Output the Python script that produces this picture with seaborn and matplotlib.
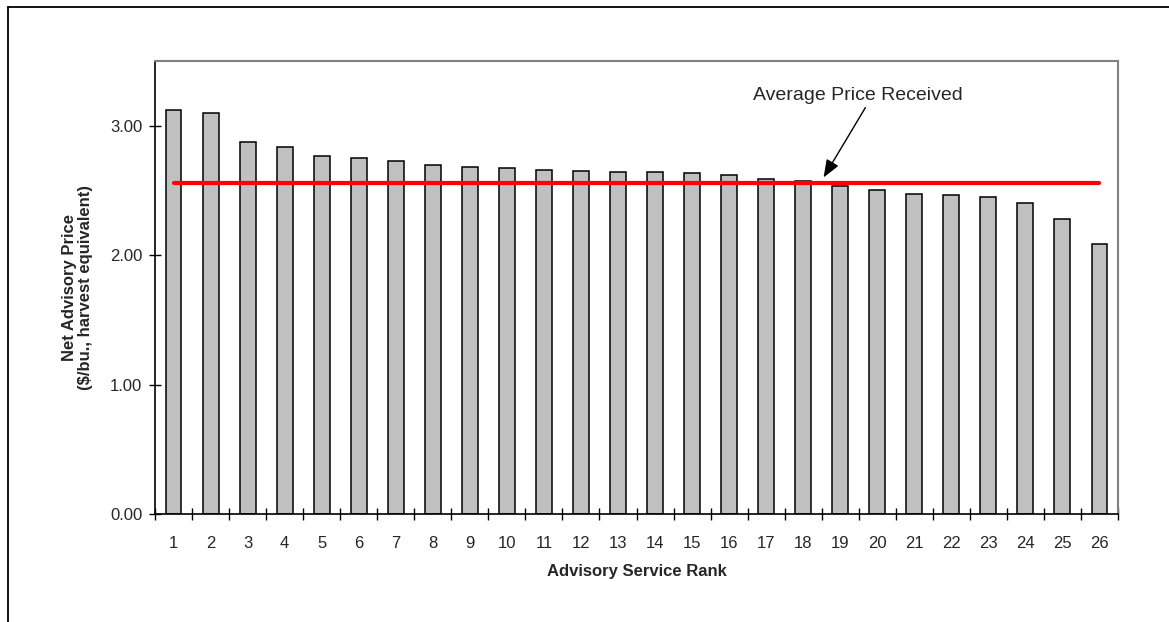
import matplotlib
matplotlib.use("Agg")
import matplotlib.pyplot as plt
from matplotlib.lines import Line2D
from matplotlib.ticker import FixedLocator, FormatStrFormatter
import seaborn as sns
import pandas as pd
import numpy as np

# Advisory service ranking: net advisory price per service
ranks = [str(i) for i in range(1, 27)]
net_prices = [3.12, 3.10, 2.877, 2.838, 2.769, 2.75, 2.73, 2.70, 2.68, 2.674,
              2.655, 2.65, 2.645, 2.64, 2.632, 2.62, 2.585, 2.575, 2.534, 2.50,
              2.473, 2.462, 2.447, 2.40, 2.28, 2.083]
avg_price_received = 2.555
y_ticks = [0.0, 1.0, 2.0, 3.0]

sns.set_theme(style="white")
plt.rcParams["font.family"] = ["Liberation Sans", "DejaVu Sans"]

df = pd.DataFrame({"rank": ranks, "price": net_prices})
avg_df = pd.DataFrame({"pos": np.arange(len(ranks)),
                       "avg": [avg_price_received] * len(ranks)})

fig = plt.figure(figsize=(11.69, 6.22), dpi=100)
ax = fig.add_axes([155 / 1169, 1 - 514 / 622, (1118 - 155) / 1169, (514 - 61) / 622])

sns.barplot(data=df, x="rank", y="price", color="#C0C0C0", saturation=1,
            width=0.43, edgecolor="black", linewidth=1.1, ax=ax)
sns.lineplot(data=avg_df, x="pos", y="avg", color="#FF0000", linewidth=3, ax=ax)

ax.set_xlim(-0.5, len(ranks) - 0.5)
ax.set_ylim(0, 3.5)

# y axis
ax.yaxis.set_major_locator(FixedLocator(y_ticks))
ax.yaxis.set_major_formatter(FormatStrFormatter("%.2f"))
ax.tick_params(axis="y", which="major", direction="inout", length=8, width=1,
               color="black", labelsize=12, pad=5, left=True)

# x axis: labels at bar centres, tick marks at category boundaries
ax.set_xticks(np.arange(len(ranks)))
ax.set_xticklabels(ranks)
ax.set_xticks(np.arange(len(ranks) + 1) - 0.5, minor=True)
ax.tick_params(axis="x", which="major", length=0, labelsize=12, pad=16)
ax.tick_params(axis="x", which="minor", direction="inout", length=8, width=1,
               color="black", bottom=True)

ax.set_xlabel("Advisory Service Rank", fontsize=12, fontweight="bold", labelpad=9)
ax.set_ylabel("Net Advisory Price\n($/bu., harvest equivalent)", fontsize=12,
              fontweight="bold", labelpad=12, linespacing=1.12)

for side in ("left", "bottom"):
    ax.spines[side].set_color("black")
    ax.spines[side].set_linewidth(1.2)
for side in ("top", "right"):
    ax.spines[side].set_color("#808080")
    ax.spines[side].set_linewidth(1.5)

# Annotation for the average price line
ax.text(18.47, 3.235, "Average Price Received", fontsize=14, ha="center", va="center")
ax.annotate("", xy=(17.55, avg_price_received + 0.045), xytext=(18.68, 3.14),
            arrowprops=dict(arrowstyle="-|>,head_length=0.9,head_width=0.35",
                            color="black", lw=1, shrinkA=0, shrinkB=0))

# Outer frame (top and left edges)
fig.add_artist(Line2D([8 / 1169, 1.0], [1 - 7 / 622, 1 - 7 / 622],
                      color="black", linewidth=1.3, transform=fig.transFigure))
fig.add_artist(Line2D([8 / 1169, 8 / 1169], [0.0, 1 - 7 / 622],
                      color="black", linewidth=1.3, transform=fig.transFigure))

fig.savefig("out.png", dpi=100, facecolor="white")
